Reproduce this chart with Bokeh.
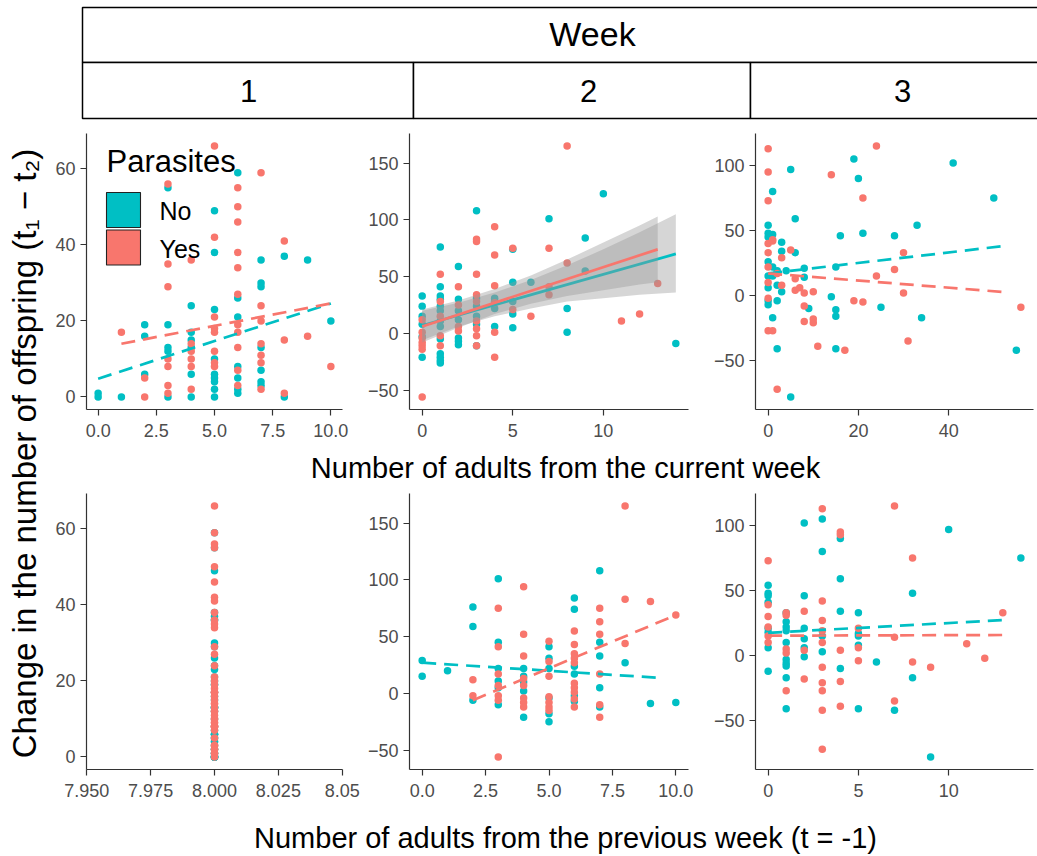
import math
from bokeh.plotting import figure
from bokeh.layouts import row, column
from bokeh.models import Range1d, FixedTicker, CustomJSTickFormatter, Label, BoxAnnotation
from bokeh.embed import file_html
from bokeh.resources import INLINE

# ---------------- data ----------------
# Week 1 - adults of the current week (x) vs change in offspring (y)
w1_cur_no_x = [0, 0, 1, 2, 2, 2, 3, 3, 3, 3, 3, 4, 4, 4, 4, 4, 4, 5, 5, 5, 5, 5, 5, 5, 5, 5,
               6, 6, 6, 6, 6, 6, 6, 7, 7, 7, 7, 7, 7, 7, 8, 8, 9, 10]
w1_no_y = [1, 0, 0, 19, 16, 6, 55, 19, 13, 12, 0, 24, 17, 15, 13, 6, 0, 49, 38, 23, 10, 6, 5, 4, 2, 0,
           59, 26, 21, 8, 5, 2, 1, 36, 30, 29, 13, 7, 4, 3, 37, 0, 36, 20]
w1_cur_yes_x = [1, 2, 2, 3, 3, 3, 3, 3, 3, 3, 4, 4, 4, 4, 4, 4, 5, 5, 5, 5, 5, 5, 5, 5,
                6, 6, 6, 6, 6, 6, 6, 6, 6, 6, 6, 7, 7, 7, 7, 7, 7, 7, 8, 8, 8, 9, 10]
w1_yes_y = [17, 5, 0, 56, 35, 29, 10, 8, 3, 1, 36, 14, 12, 10, 8, 2, 66, 42, 21, 18, 17, 12, 9, 8,
            55, 50, 46, 38, 34, 27, 19, 17, 13, 7, 3, 59, 24, 20, 14, 11, 9, 2, 41, 15, 1, 16, 8]
w1_prev_adults = 8  # every week-1 replicate had 8 adults the week before

# Week 2 - current week
w2_cur_no_x = [0, 0, 0, 0, 0, 0, 1, 1, 1, 1, 1, 1, 1, 1, 1, 1, 1, 1, 1, 2, 2, 2, 2, 2, 2, 2,
               3, 3, 3, 3, 3, 3, 4, 4, 4, 4, 5, 5, 5, 5, 5, 6, 7, 8, 8, 9, 9, 10, 14]
w2_cur_no_y = [33, 24, 15, 8, -3, -21, 76, 41, 33, 30, 24, 20, 11, 6, -5, -18, -21, -24, -26,
               59, 30, 20, 12, -4, -7, -10, 108, 31, 24, 15, 8, -11, 31, 28, 22, 6,
               74, 45, 28, 17, 5, 45, 101, 22, 1, 84, 55, 123, -9]
w2_cur_yes_x = [0, 0, 0, 0, 0, 0, 0, 1, 1, 1, 1, 1, 2, 2, 2, 2, 3, 3, 3, 3, 3, 3, 3, 3, 3,
                4, 4, 4, 4, 4, 4, 5, 5, 6, 7, 7, 7, 8, 8, 11, 12, 13]
w2_cur_yes_y = [12, 1, -4, -8, -11, -14, -56, 52, 28, 15, -2, -11, 41, 25, 6, 2,
                83, 81, 52, 34, 28, 11, 4, -2, -11, 94, 69, 42, 27, 1, -21, 75, 21, 15,
                75, 41, 34, 165, 62, 11, 17, 44]

# Week 3 - current week
w3_cur_no_x = [0, 0, 0, 0, 0, 0, 0, 0, 1, 1, 1, 1, 1, 2, 2, 2, 2, 3, 3, 3, 4, 5, 5, 6, 6, 8, 8,
               9, 14, 15, 15, 15, 15, 16, 19, 20, 21, 25, 28, 33, 34, 41, 50, 55]
w3_cur_no_y = [54, 48, 45, 26, 15, 6, -4, -7, 47, 80, 22, 15, -17, -41, -4, 8, 19, 41, 34, 3, 19,
               97, -78, 59, 33, 21, 14, -10, -1, 22, -11, -16, -41, 46, 105, 90, 48, -9, 46,
               54, -17, 102, 75, -42]
w3_cur_yes_x = [0, 0, 0, 0, 0, 0, 0, 0, 0, 1, 1, 1, 2, 2, 3, 3, 5, 6, 6, 7, 8, 8, 8, 10, 10, 10,
                11, 14, 17, 19, 21, 21, 24, 24, 28, 30, 30, 31, 56]
w3_cur_yes_y = [113, 95, 73, 40, 33, 22, 10, -2, -27, 42, 43, -27, -72, 17, 29, 8, 35, 13, 4, 6,
                2, -8, -20, 3, -18, -21, -39, 93, -42, -4, 75, -5, 115, 15, 20, 33, 2, -35, -9]

# Week 2 - adults of the previous week
w2_prev_no_x = [0, 0, 1, 2, 2, 2, 3, 3, 3, 3, 3, 3, 4, 4, 4, 4, 4, 5, 5, 5, 5, 5, 5,
                6, 6, 6, 6, 6, 6, 7, 7, 7, 7, 7, 8, 9, 10]
w2_prev_no_y = [29, 15, 20, 76, 59, -6, 101, 45, 22, 11, 5, -10, 22, 15, 10, 2, -21,
                41, 31, 22, -4, -18, -25, 84, 74, 24, 17, -2, -7, 108, 45, 33, 5, -12, 27, -9, -8]
w2_prev_yes_x = [2, 2, 3, 3, 3, 3, 3, 3, 3, 4, 4, 4, 4, 4, 4, 4, 4, 5, 5, 5, 5, 5, 5, 5,
                 6, 6, 6, 6, 6, 6, 6, 6, 6, 6, 7, 7, 7, 7, 7, 7, 8, 8, 8, 9, 10]
w2_prev_yes_y = [12, -2, 75, 41, 17, 7, -2, -6, -56, 94, 52, 33, 13, 7, -4, -8, -12,
                 46, 28, 15, -3, -8, -12, -15, 55, 43, 35, 31, 27, 9, 5, 1, -5, -12,
                 75, 63, 52, 17, -10, -21, 165, 83, 44, 81, 69]

# Week 3 - adults of the previous week
w3_prev_no_x = [0, 0, 0, 0, 0, 0, 0, 0, 1, 1, 1, 1, 1, 1, 1, 1, 1, 1, 2, 2, 2, 2, 2, 2,
                3, 3, 3, 3, 4, 4, 4, 4, 5, 5, 5, 5, 5, 6, 7, 8, 8, 9, 10, 14]
w3_prev_no_y = [54, 48, 46, 41, 21, 18, 6, -12, 33, 26, 22, 19, 10, -3, -6, -8, -17, -41,
                102, 46, 21, 13, 6, -1, 105, 80, 15, 3, 90, 59, 34, -10, 33, 17, 15, 8, -41,
                -5, -42, 48, -17, -78, 97, 75]
w3_prev_yes_x = [0, 0, 0, 0, 0, 0, 1, 1, 1, 1, 1, 2, 2, 2, 3, 3, 3, 3, 3, 3, 3, 3, 3, 3,
                 4, 4, 4, 4, 4, 5, 5, 5, 7, 7, 7, 8, 8, 9, 11, 12, 13]
w3_prev_yes_y = [73, 39, 30, 22, 15, 10, 33, 31, 5, 2, -27, 34, 4, -18,
                 113, 42, 27, 19, 10, -9, -21, -27, -42, -72, 95, 93, 4, -20, -39,
                 21, 6, -4, 115, 14, -35, 75, -5, -9, 9, -2, 33]

# fitted lines (end points)
w1_cur_fit_no_x, w1_cur_fit_no_y = [0, 10], [4.8, 24.6]
w1_cur_fit_yes_x, w1_cur_fit_yes_y = [1, 10], [14, 24.6]
w2_cur_fit_no_x, w2_cur_fit_no_y = [0, 14], [7, 70]
w2_cur_fit_yes_x, w2_cur_fit_yes_y = [0, 13], [6, 74]
w3_cur_fit_no_x, w3_cur_fit_no_y = [0, 52], [17, 38]
w3_cur_fit_yes_x, w3_cur_fit_yes_y = [0, 53], [17, 2.5]
w2_prev_fit_no_x, w2_prev_fit_no_y = [0, 9.5], [27, 13.5]
w2_prev_fit_yes_x, w2_prev_fit_yes_y = [2, 10], [-6, 69]
w3_prev_fit_no_x, w3_prev_fit_no_y = [0, 13.3], [17.5, 27.5]
w3_prev_fit_yes_x, w3_prev_fit_yes_y = [0, 13], [15.3, 15.8]

# confidence bands of week 2 (current week)
w2_band_no_x = [0, 2, 4, 6, 8, 10, 12, 14]
w2_band_no_lo = [-6, 6, 15, 22, 28, 31, 34, 36]
w2_band_no_hi = [20, 27, 36, 47, 60, 74, 89, 105]
w2_band_yes_x = [0, 2, 4, 6, 8, 10, 12, 13]
w2_band_yes_lo = [-8, 5, 17, 26, 33, 38, 43, 45]
w2_band_yes_hi = [21, 29, 39, 51, 65, 80, 95, 103]

# ticks
w1_cur_xticks, w1_cur_xlabels = [0, 2.5, 5, 7.5, 10], ["0.0", "2.5", "5.0", "7.5", "10.0"]
w2_cur_xticks, w2_cur_xlabels = [0, 5, 10], ["0", "5", "10"]
w3_cur_xticks, w3_cur_xlabels = [0, 20, 40], ["0", "20", "40"]
w1_prev_xticks, w1_prev_xlabels = [7.95, 7.975, 8.0, 8.025, 8.05], ["7.950", "7.975", "8.000", "8.025", "8.05"]
w2_prev_xticks, w2_prev_xlabels = [0, 2.5, 5, 7.5, 10], ["0.0", "2.5", "5.0", "7.5", "10.0"]
w3_prev_xticks, w3_prev_xlabels = [0, 5, 10], ["0", "5", "10"]
w1_yticks = [0, 20, 40, 60]
w2_yticks = [-50, 0, 50, 100, 150]
w3_yticks = [-50, 0, 50, 100]

weeks = ["1", "2", "3"]
groups = ["No", "Yes"]

# ---------------- styling ----------------
TEAL = "#00BFC4"
SALMON = "#F8766D"
FONT = "Liberation Sans"
DASH = "14 8"


def expand(vals):
    lo, hi = min(vals), max(vals)
    d = (hi - lo) * 0.05
    return lo - d, hi + d


def panel(width, height, left, right, top, bottom, xr, yr, xticks, xlabels, yticks):
    p = figure(width=width, height=height, x_range=Range1d(*xr), y_range=Range1d(*yr),
               output_backend="svg", toolbar_location=None,
               min_border_left=left, min_border_right=right,
               min_border_top=top, min_border_bottom=bottom)
    p.xgrid.visible = False
    p.ygrid.visible = False
    p.outline_line_color = None
    p.background_fill_color = "white"
    p.border_fill_color = "white"
    p.xaxis.ticker = FixedTicker(ticks=xticks)
    p.xaxis.formatter = CustomJSTickFormatter(
        args=dict(vals=xticks, labels=xlabels),
        code="let b = 0; for (let i = 0; i < vals.length; i++) {"
             " if (Math.abs(vals[i] - tick) < Math.abs(vals[b] - tick)) b = i; }"
             " return labels[b];")
    p.yaxis.ticker = FixedTicker(ticks=yticks)
    for ax in (p.xaxis[0], p.yaxis[0]):
        ax.axis_line_color = "#333333"
        ax.axis_line_width = 1.2
        ax.major_tick_line_color = "#333333"
        ax.major_tick_line_width = 1.2
        ax.major_tick_out = 6
        ax.major_tick_in = 0
        ax.minor_tick_line_color = None
        ax.major_label_text_font = FONT
        ax.major_label_text_font_size = "18px"
        ax.major_label_text_color = "#4D4D4D"
        ax.major_label_standoff = 5
    p.xaxis[0].major_label_standoff = 8
    return p


def points(p, xs, ys, color):
    p.scatter(x=xs, y=ys, size=7.5, fill_color=color, line_color=None)


def fit(p, xs, ys, color, dash):
    p.line(x=xs, y=ys, line_color=color, line_width=2.7, line_dash=dash)


def label(fig, x, y, text, size, align="left", angle=0.0):
    fig.add_layout(Label(x=x, y=y, x_units="screen", y_units="screen", text=text,
                         angle=angle, text_font=FONT, text_font_size=size,
                         text_align=align, text_baseline="middle", text_color="black"))


TOP_H, BOT_H = 325, 315
W1, W2, W3 = 310, 340, 337

# ---- top row: current week ----
w1_y_all = w1_no_y + w1_yes_y
p1 = panel(W1, TOP_H, 36, 18, 13, 36,
           expand(w1_cur_no_x + w1_cur_yes_x), expand(w1_y_all),
           w1_cur_xticks, w1_cur_xlabels, w1_yticks)
points(p1, w1_cur_no_x, w1_no_y, TEAL)
points(p1, w1_cur_yes_x, w1_yes_y, SALMON)
fit(p1, w1_cur_fit_no_x, w1_cur_fit_no_y, TEAL, DASH)
fit(p1, w1_cur_fit_yes_x, w1_cur_fit_yes_y, SALMON, DASH)

# legend drawn inside the first panel (screen units from the frame's bottom-left)
label(p1, 20, 248, "Parasites", "31px")
for i, (g, c) in enumerate(zip(groups, [TEAL, SALMON])):
    top = 217 - i * 37.5
    p1.add_layout(BoxAnnotation(left=20, right=54, top=top, bottom=top - 35,
                                left_units="screen", right_units="screen",
                                top_units="screen", bottom_units="screen",
                                fill_color=c, fill_alpha=1.0,
                                line_color="#222222", line_width=1.1, line_alpha=1.0))
    label(p1, 73, 199 - i * 38, g, "25px")

w2_y_all = w2_cur_no_y + w2_cur_yes_y
p2 = panel(W2, TOP_H, 49, 12, 13, 36,
           expand(w2_cur_no_x + w2_cur_yes_x), expand(w2_y_all),
           w2_cur_xticks, w2_cur_xlabels, w2_yticks)
points(p2, w2_cur_no_x, w2_cur_no_y, TEAL)
points(p2, w2_cur_yes_x, w2_cur_yes_y, SALMON)
p2.varea(x=w2_band_no_x, y1=w2_band_no_lo, y2=w2_band_no_hi, fill_color="#999999", fill_alpha=0.4)
fit(p2, w2_cur_fit_no_x, w2_cur_fit_no_y, TEAL, "solid")
p2.varea(x=w2_band_yes_x, y1=w2_band_yes_lo, y2=w2_band_yes_hi, fill_color="#999999", fill_alpha=0.4)
fit(p2, w2_cur_fit_yes_x, w2_cur_fit_yes_y, SALMON, "solid")

w3_y_all = w3_cur_no_y + w3_cur_yes_y
p3 = panel(W3, TOP_H, 55, 4, 13, 36,
           expand(w3_cur_no_x + w3_cur_yes_x), expand(w3_y_all),
           w3_cur_xticks, w3_cur_xlabels, w3_yticks)
points(p3, w3_cur_no_x, w3_cur_no_y, TEAL)
points(p3, w3_cur_yes_x, w3_cur_yes_y, SALMON)
fit(p3, w3_cur_fit_no_x, w3_cur_fit_no_y, TEAL, DASH)
fit(p3, w3_cur_fit_yes_x, w3_cur_fit_yes_y, SALMON, DASH)

# ---- bottom row: previous week ----
w1_prev_no_x = [w1_prev_adults for _ in w1_no_y]
w1_prev_yes_x = [w1_prev_adults for _ in w1_yes_y]
p4 = panel(W1, BOT_H, 36, 18, 3, 36,
           (w1_prev_adults - 0.0501, w1_prev_adults + 0.0501), expand(w1_y_all),
           w1_prev_xticks, w1_prev_xlabels, w1_yticks)
points(p4, w1_prev_no_x, w1_no_y, TEAL)
points(p4, w1_prev_yes_x, w1_yes_y, SALMON)

p5 = panel(W2, BOT_H, 49, 12, 3, 36,
           expand(w2_prev_no_x + w2_prev_yes_x), expand(w2_prev_no_y + w2_prev_yes_y),
           w2_prev_xticks, w2_prev_xlabels, w2_yticks)
points(p5, w2_prev_no_x, w2_prev_no_y, TEAL)
points(p5, w2_prev_yes_x, w2_prev_yes_y, SALMON)
fit(p5, w2_prev_fit_no_x, w2_prev_fit_no_y, TEAL, DASH)
fit(p5, w2_prev_fit_yes_x, w2_prev_fit_yes_y, SALMON, DASH)

p6 = panel(W3, BOT_H, 55, 4, 3, 36,
           expand(w3_prev_no_x + w3_prev_yes_x), expand(w3_prev_no_y + w3_prev_yes_y),
           w3_prev_xticks, w3_prev_xlabels, w3_yticks)
points(p6, w3_prev_no_x, w3_prev_no_y, TEAL)
points(p6, w3_prev_yes_x, w3_prev_yes_y, SALMON)
fit(p6, w3_prev_fit_no_x, w3_prev_fit_no_y, TEAL, DASH)
fit(p6, w3_prev_fit_yes_x, w3_prev_fit_yes_y, SALMON, DASH)


# ---- text-only figures ----
def blank(width, height):
    f = figure(width=width, height=height, output_backend="svg", toolbar_location=None,
               x_axis_location=None, y_axis_location=None,
               min_border_left=0, min_border_right=0, min_border_top=0, min_border_bottom=0)
    f.xgrid.visible = False
    f.ygrid.visible = False
    f.outline_line_color = None
    f.x_range = Range1d(0, 1)
    f.y_range = Range1d(0, 1)
    return f


header = blank(1037, 120)


def strip_box(l, r, b, t):
    header.add_layout(BoxAnnotation(left=l, right=r, bottom=b, top=t,
                                    left_units="screen", right_units="screen",
                                    top_units="screen", bottom_units="screen",
                                    fill_color="white", fill_alpha=1.0,
                                    line_color="black", line_width=1.5, line_alpha=1.0))


strip_box(82, 1100, 58, 113)
strip_box(82, 413, 2, 58)
strip_box(413, 750, 2, 58)
strip_box(750, 1100, 2, 58)
label(header, 592, 87, "Week", "34px", align="center")
for wk, cx in zip(weeks, [248, 588, 902]):
    label(header, cx, 30, wk, "31px", align="center")

ytitle = blank(50, 736)
label(ytitle, 24, 403, "Change in the number of offspring (t\u2081 \u2212 t\u2082)", "33px",
      align="center", angle=math.pi / 2)

xt1 = blank(987, 45)
label(xt1, 515, 23, "Number of adults from the current week", "29px", align="center")
xt2 = blank(987, 51)
label(xt2, 515, 19, "Number of adults from the previous week (t = -1)", "29px", align="center")

layout = column(header,
                row(ytitle, column(row(p1, p2, p3), xt1, row(p4, p5, p6), xt2)))

open("out.html", "w").write(file_html(layout, INLINE))
